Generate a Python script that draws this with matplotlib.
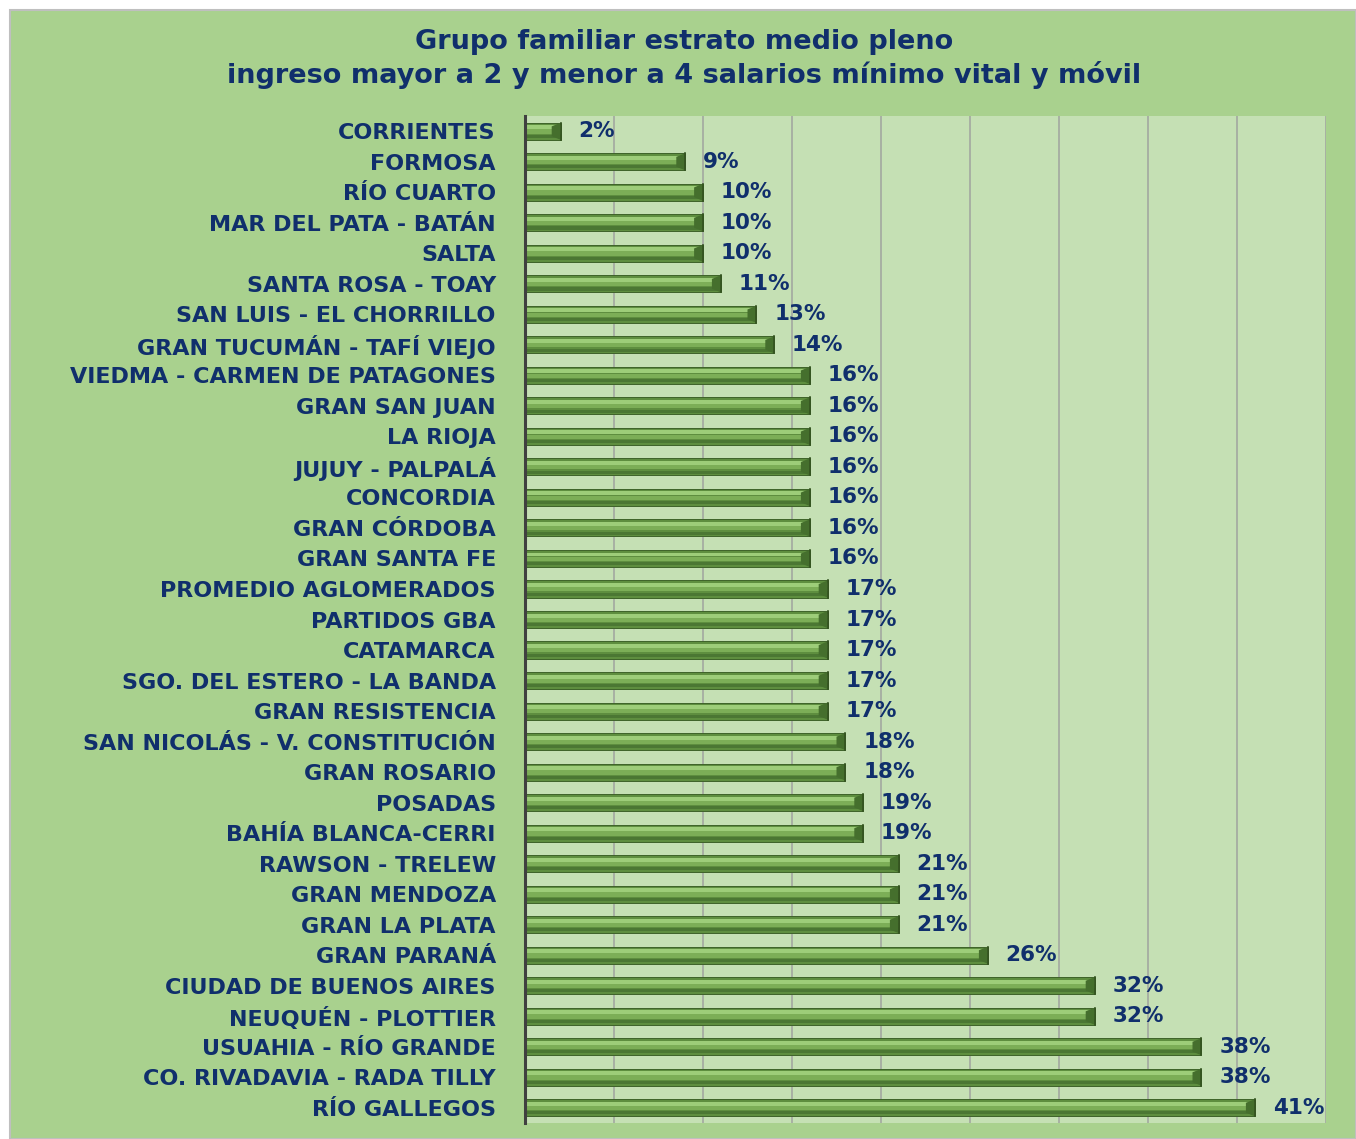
import matplotlib
matplotlib.use("Agg")
import matplotlib.pyplot as plt
from matplotlib.patches import Rectangle

categories = [
    "CORRIENTES", "FORMOSA", "RÍO CUARTO", "MAR DEL PATA - BATÁN", "SALTA",
    "SANTA ROSA - TOAY", "SAN LUIS - EL CHORRILLO", "GRAN TUCUMÁN - TAFÍ VIEJO",
    "VIEDMA - CARMEN DE PATAGONES", "GRAN SAN JUAN", "LA RIOJA", "JUJUY - PALPALÁ",
    "CONCORDIA", "GRAN CÓRDOBA", "GRAN SANTA FE", "PROMEDIO AGLOMERADOS",
    "PARTIDOS GBA", "CATAMARCA", "SGO. DEL ESTERO - LA BANDA", "GRAN RESISTENCIA",
    "SAN NICOLÁS - V. CONSTITUCIÓN", "GRAN ROSARIO", "POSADAS", "BAHÍA BLANCA-CERRI",
    "RAWSON - TRELEW", "GRAN MENDOZA", "GRAN LA PLATA", "GRAN PARANÁ",
    "CIUDAD DE BUENOS AIRES", "NEUQUÉN - PLOTTIER", "USUAHIA - RÍO GRANDE",
    "CO. RIVADAVIA - RADA TILLY", "RÍO GALLEGOS",
]
values = [2, 9, 10, 10, 10, 11, 13, 14, 16, 16, 16, 16, 16, 16, 16, 17, 17, 17,
          17, 17, 18, 18, 19, 19, 21, 21, 21, 26, 32, 32, 38, 38, 41]

title = ("Grupo familiar estrato medio pleno\n"
         "ingreso mayor a 2 y menor a 4 salarios mínimo vital y móvil")

navy = "#102f6c"
bar_h = 0.56

fig = plt.figure(figsize=(13.56, 11.39), dpi=100, facecolor="white")
# green chart area with thin grey border
fig.patches.append(Rectangle((10 / 1356, 0), 1 - 10 / 1356, 1 - 10 / 1139,
                             transform=fig.transFigure, facecolor="#a9d18e",
                             edgecolor="#bfbfbf", linewidth=1.5, zorder=-10))

ax = fig.add_axes([525 / 1356, 1 - 1123 / 1139, 801 / 1356, 1007 / 1139])
ax.set_facecolor("#c5e0b4")

ypos = list(range(len(categories)))

# base bar + bands for a bevelled look
ax.barh(ypos, values, height=bar_h, color="#5e8e3f", edgecolor="#3e6329",
        linewidth=0.7, zorder=3)
ax.barh([y - 0.13 for y in ypos], values, height=0.13, color="#9dcd79", linewidth=0, zorder=4)
ax.barh([y + 0.01 for y in ypos], values, height=0.14, color="#7cae57", linewidth=0, zorder=4)
ax.barh([y + 0.17 for y in ypos], values, height=0.1, color="#4b7733", linewidth=0, zorder=4)

cap = 0.5  # width of end bevel, in % units
for y, v in zip(ypos, values):
    top, bot = y - bar_h / 2, y + bar_h / 2
    c = min(cap, v * 0.4)
    ax.fill([v - c, v, v, v - c], [top + 0.12, top, bot, bot - 0.12],
            color="#456f2d", linewidth=0, zorder=5)
    ax.plot([v, v], [top, bot], color="#33521f", linewidth=1.2, zorder=6)
    ax.text(v + 1.0, y, f"{v}%", va="center", ha="left", color=navy,
            fontsize=15.5, fontweight="bold", zorder=7)

ax.set_xlim(0, 45)
ax.set_ylim(len(categories) - 0.5, -0.5)
ax.set_xticks(range(5, 46, 5))
ax.tick_params(axis="x", length=0, labelbottom=False)
ax.grid(axis="x", color="#a3a8a0", linewidth=1.2, zorder=1)

ax.set_yticks(ypos)
ax.set_yticklabels(categories, fontsize=16, fontweight="bold", color=navy)
ax.tick_params(axis="y", length=0, pad=21)

for s in ["top", "right", "bottom"]:
    ax.spines[s].set_visible(False)
ax.spines["left"].set_color("#404040")
ax.spines["left"].set_linewidth(2.2)
ax.spines["left"].set_zorder(8)

fig.text(684 / 1356, 1 - 59 / 1139, title, ha="center", va="center",
         fontsize=19.5, fontweight="bold", color=navy, linespacing=1.25)

fig.savefig("out.png", dpi=100, facecolor=fig.get_facecolor())
